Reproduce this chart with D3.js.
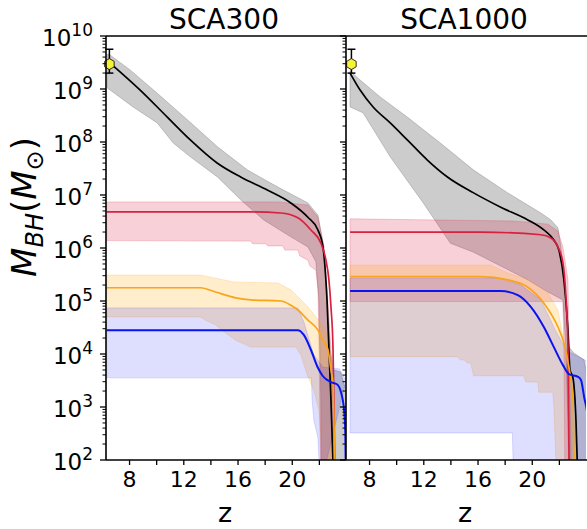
<!DOCTYPE html>
<html lang="en">
  <head>
    <meta charset="utf-8">
    <script src="https://d3js.org/d3.v7.min.js"></script>
    <style>
      body { margin: 0; background: #fff; }
      text { font-family: "DejaVu Sans", sans-serif; fill: #000; }
    </style>
  </head>
  <body>
    <svg id="chart"></svg>
    <script>
      // values are log10(M_BH / Msun), as [z, logM] pairs
      var titles = ["SCA300", "SCA1000"];
      var xTicks = [8, 10, 12, 14, 16, 18, 20, 22];
      var xLabels = [8, 12, 16, 20];
      var yDecades = [2, 3, 4, 5, 6, 7, 8, 9, 10];

      // observed quasar point: z, logM, err low, err high
      var obs300 = [6.55, 9.47, 9.30, 9.75];
      var obs1000 = [6.7, 9.47, 9.30, 9.75];

      // ---- SCA300 ----
      var s300_black = [[6.6,9.49],[8.82,8.98],[10.82,8.47],[12.52,8.04],[14.52,7.60],[16.23,7.34],[18.23,7.09],[19.93,6.85],[21.19,6.58],[21.93,6.34],[22.3,6.02],[22.6,5.02],[22.89,3.13],[23.1,1.5]];
      var s300_blackHi = [[6.4,9.66],[6.6,9.64],[8.08,9.36],[10.08,8.92],[12.3,8.42],[14.52,7.91],[16.74,7.47],[18.97,7.15],[21.19,6.85],[21.93,6.62],[22.37,6.02],[22.6,5.02],[22.82,4.08],[23.1,3.7],[23.6,3.66],[24.0,3.3]];
      var s300_blackLo = [[6.4,9.02],[8.3,8.66],[10.08,8.36],[11.26,7.98],[12.52,7.72],[14.52,7.34],[16.23,6.91],[17.93,6.53],[19.93,6.21],[21.19,6.02],[21.78,5.74],[22.0,5.02],[22.15,3.13],[22.2,1.5],[24.0,1.5]];

      var s300_red = [[6.35,6.68],[16.97,6.68],[19.19,6.66],[20.45,6.57],[21.41,6.34],[22.15,6.09],[22.52,5.77],[22.74,5.40],[22.89,4.89],[23.04,4.13],[23.11,3.13],[23.19,1.5]];
      var s300_redHi = [[6.35,6.87],[18.97,6.87],[21.19,6.81],[21.93,6.58],[22.37,6.02],[22.67,5.02],[22.89,4.08],[23.1,2.75],[23.26,1.5]];
      var s300_redLo = [[6.35,6.14],[16.97,6.13],[17.11,6.08],[18.08,6.08],[18.23,6.04],[19.34,6.04],[19.49,5.96],[20.45,5.96],[20.6,5.85],[21.19,5.77],[21.34,5.66],[21.78,5.58],[21.93,5.21],[22.0,4.26],[22.08,2.75],[22.15,1.5]];

      var s300_orange = [[6.35,5.25],[13.26,5.25],[14.37,5.17],[15.86,5.06],[16.97,5.02],[19.19,5.0],[19.93,4.92],[20.45,4.83],[21.19,4.64],[21.93,4.45],[22.3,4.26],[22.67,4.08],[22.89,3.70],[23.04,3.45],[23.11,2.75],[23.19,1.5]];
      var s300_orangeHi = [[6.35,5.49],[13.26,5.49],[15.71,5.36],[18.97,5.34],[19.93,5.21],[21.19,4.89],[22.37,4.51],[22.74,4.26],[23.04,3.51],[23.19,1.5]];
      var s300_orangeLo = [[6.35,4.70],[13.26,4.70],[13.63,4.64],[14.37,4.55],[15.11,4.40],[15.86,4.26],[16.97,4.13],[20.3,4.13],[20.67,3.98],[21.19,3.57],[21.63,3.32],[22.0,2.94],[22.15,2.38],[22.2,1.5]];

      var s300_blue = [[6.35,4.45],[20.45,4.45],[20.89,4.36],[21.41,4.08],[21.93,3.74],[22.3,3.58],[22.89,3.47],[23.33,3.43],[23.63,3.28],[23.86,2.94],[23.95,2.5],[24.0,1.5]];
      var s300_blueHi = [[6.35,4.87],[20.45,4.87],[20.9,4.6],[21.6,4.0],[22.3,3.75],[23.5,3.72],[24.0,3.5]];
      var s300_blueLo = [[6.35,3.55],[21.45,3.55],[21.5,3.13],[21.63,2.75],[21.93,2.42],[22.1,1.5]];

      // ---- SCA1000 ----
      var s1000_black = [[6.6,9.30],[7.34,8.98],[8.3,8.66],[9.56,8.36],[10.82,8.04],[12.3,7.66],[13.78,7.34],[15.71,7.04],[17.71,6.77],[19.71,6.53],[20.89,6.34],[21.63,6.15],[22.0,5.96],[22.37,5.40],[22.67,4.45],[22.82,3.70],[23.04,3.55],[23.26,2.75],[23.41,1.5]];
      var s1000_blackHi = [[6.6,9.34],[7.34,9.17],[8.82,8.85],[10.82,8.47],[13.26,7.98],[15.71,7.47],[18.23,7.04],[20.67,6.66],[21.41,6.53],[21.93,6.38],[22.15,6.02],[22.52,5.02],[22.74,4.13],[23.1,4.02],[23.85,3.89],[24.15,3.5]];
      var s1000_blackLo = [[6.6,8.66],[7.56,8.55],[9.56,7.72],[12.0,6.85],[14.0,6.09],[15.71,5.92],[17.71,5.66],[19.71,5.40],[21.19,5.17],[22.3,5.02],[22.52,4.08],[22.67,2.75],[22.74,1.5],[24.2,1.5]];

      var s1000_red = [[6.6,6.30],[16.23,6.30],[20.67,6.25],[21.41,6.19],[21.93,6.02],[22.3,5.72],[22.52,5.08],[22.67,4.13],[22.74,2.25],[22.78,1.5]];
      var s1000_redHi = [[6.6,6.55],[18.67,6.51],[21.19,6.45],[21.93,6.32],[22.3,6.02],[22.67,5.40],[22.74,4.13],[22.89,2.25],[22.9,1.5]];
      var s1000_redLo = [[6.6,4.99],[22.3,4.99],[22.37,4.08],[22.45,1.5]];

      var s1000_orange = [[6.6,5.46],[16.23,5.46],[18.23,5.40],[19.71,5.26],[20.89,4.96],[21.93,4.51],[22.37,4.21],[22.74,3.75],[23.04,3.13],[23.11,2.19],[23.15,1.5]];
      var s1000_orangeHi = [[6.6,5.68],[16.97,5.68],[18.23,5.53],[19.71,5.40],[21.19,5.15],[21.93,4.83],[22.3,4.32],[22.67,3.89],[22.89,3.45],[23.04,2.19],[23.1,1.5]];
      var s1000_orangeLo = [[6.6,3.95],[14.5,3.95],[14.75,3.89],[15.0,3.89],[15.25,3.83],[15.5,3.83],[15.71,3.59],[19.41,3.59],[19.56,3.47],[20.45,3.47],[20.52,3.28],[21.56,3.28],[21.63,3.0],[21.86,1.5]];

      var s1000_blue = [[6.6,5.19],[17.71,5.19],[18.97,5.11],[19.93,4.89],[20.89,4.51],[21.63,4.13],[22.3,3.79],[22.74,3.62],[23.41,3.57],[23.63,3.51],[23.86,3.19],[24.15,2.75],[24.3,1.5]];
      var s1000_blueHi = [[6.6,5.43],[17.71,5.43],[19.2,5.3],[20.67,5.02],[21.75,4.45],[22.52,4.08],[22.9,4.02],[24.2,3.85]];
      var s1000_blueLo = [[6.6,2.51],[18.57,2.51],[18.67,1.5],[24.2,1.5]];

      var width = 587, height = 529;
      var yTop = 36, yBottom = 460, panelW = 240;
      var lefts = [106, 346];

      var svg = d3.select("#chart")
        .attr("width", width)
        .attr("height", height);

      var y = d3.scaleLog().domain([1e2, 1e10]).range([yBottom, yTop]);

      var colors = {
        black: { line: "#000000", fill: "#808080", op: 0.4, w: 1.7 },
        red: { line: "#d7213f", fill: "#dc143c", op: 0.2, w: 1.7 },
        orange: { line: "#f8a51c", fill: "#ffa500", op: 0.2, w: 1.7 },
        blue: { line: "#0a14f0", fill: "#0000ff", op: 0.13, w: 2 }
      };

      var panels = [
        { title: titles[0], obs: obs300, series: [
          ["black", s300_black, s300_blackHi, s300_blackLo],
          ["red", s300_red, s300_redHi, s300_redLo],
          ["orange", s300_orange, s300_orangeHi, s300_orangeLo],
          ["blue", s300_blue, s300_blueHi, s300_blueLo]] },
        { title: titles[1], obs: obs1000, series: [
          ["black", s1000_black, s1000_blackHi, s1000_blackLo],
          ["red", s1000_red, s1000_redHi, s1000_redLo],
          ["orange", s1000_orange, s1000_orangeHi, s1000_orangeLo],
          ["blue", s1000_blue, s1000_blueHi, s1000_blueLo]] }
      ];

      panels.forEach(function(p, k)
      {
        var x0 = lefts[k];
        var x = d3.scaleLinear().domain([6.3, 24]).range([x0, x0 + panelW]);
        var g = svg.append("g");

        g.append("clipPath").attr("id", "clip" + k)
          .append("rect").attr("x", x0).attr("y", yTop)
          .attr("width", panelW).attr("height", yBottom - yTop);

        var plot = g.append("g").attr("clip-path", "url(#clip" + k + ")");

        var poly = d3.line()
          .x(function(d) { return x(d[0]); })
          .y(function(d) { return y(Math.pow(10, d[1])); });
        var curve = d3.line()
          .x(function(d) { return x(d[0]); })
          .y(function(d) { return y(Math.pow(10, d[1])); })
          .curve(d3.curveMonotoneX);

        // bands
        p.series.forEach(function(s)
        {
          var c = colors[s[0]];
          var pts = s[2].concat(s[3].slice().reverse());
          plot.append("path")
            .attr("d", poly(pts) + "Z")
            .attr("fill", c.fill)
            .attr("fill-opacity", c.op)
            .attr("stroke", c.fill)
            .attr("stroke-opacity", c.op)
            .attr("stroke-width", 1);
        });

        // median lines
        p.series.forEach(function(s)
        {
          var c = colors[s[0]];
          plot.append("path")
            .attr("d", curve(s[1]))
            .attr("fill", "none")
            .attr("stroke", c.line)
            .attr("stroke-width", c.w);
        });

        // observed point with error bar
        var ox = x(p.obs[0]);
        var yLo = y(Math.pow(10, p.obs[2])), yHi = y(Math.pow(10, p.obs[3]));
        g.append("line").attr("x1", ox).attr("x2", ox).attr("y1", yLo).attr("y2", yHi)
          .attr("stroke", "#000").attr("stroke-width", 1.5);
        [yLo, yHi].forEach(function(v)
        {
          g.append("line").attr("x1", ox - 4).attr("x2", ox + 4).attr("y1", v).attr("y2", v)
            .attr("stroke", "#000").attr("stroke-width", 1.5);
        });
        var oy = y(Math.pow(10, p.obs[1]));
        var hex = d3.range(6).map(function(i)
        {
          var a = Math.PI / 2 + i * Math.PI / 3;
          return [ox + 5.5 * Math.cos(a), oy + 5.5 * Math.sin(a)];
        });
        g.append("path").attr("d", d3.line()(hex) + "Z")
          .attr("fill", "#f7f233").attr("stroke", "#000").attr("stroke-width", 0.8);

        // x axis
        var xAxis = d3.axisBottom(x).tickValues(xTicks)
          .tickFormat(function(d) { return xLabels.indexOf(d) >= 0 ? d : ""; })
          .tickSize(5).tickPadding(6);
        var ax = g.append("g").attr("transform", "translate(0," + yBottom + ")").call(xAxis);
        ax.select(".domain").remove();
        ax.selectAll("line").attr("stroke-width", 1.3);
        ax.selectAll("text").style("font-size", "22px")
          .style("font-family", "DejaVu Sans");

        // y ticks on the left edge of each panel
        var minor = [];
        yDecades.forEach(function(e)
        {
          if (e < 10) d3.range(2, 10).forEach(function(m) { minor.push(m * Math.pow(10, e)); });
        });
        minor.forEach(function(v)
        {
          g.append("line").attr("x1", x0 - 3.5).attr("x2", x0)
            .attr("y1", y(v)).attr("y2", y(v))
            .attr("stroke", "#000").attr("stroke-width", 1);
        });
        yDecades.forEach(function(e)
        {
          g.append("line").attr("x1", x0 - 6).attr("x2", x0)
            .attr("y1", y(Math.pow(10, e))).attr("y2", y(Math.pow(10, e)))
            .attr("stroke", "#000").attr("stroke-width", 1.3);
        });

        g.append("text").attr("x", x0 + panelW / 2 - 2).attr("y", 29)
          .attr("text-anchor", "middle").style("font-size", "28px").text(p.title);

        g.append("text").attr("x", x0 + panelW / 2 - 1).attr("y", 522)
          .attr("text-anchor", "middle").style("font-size", "27px").text("z");
      });

      // y tick labels (first panel only)
      yDecades.forEach(function(e)
      {
        var t = svg.append("text")
          .attr("x", 93).attr("y", y(Math.pow(10, e)) + 10)
          .attr("text-anchor", "end").style("font-size", "23px");
        t.append("tspan").text("10");
        t.append("tspan").attr("dy", -10).style("font-size", "17px").text(e);
      });

      // frame
      svg.append("line").attr("x1", lefts[0]).attr("x2", width)
        .attr("y1", yTop).attr("y2", yTop).attr("stroke", "#000").attr("stroke-width", 1.6);
      svg.append("line").attr("x1", lefts[0]).attr("x2", width)
        .attr("y1", yBottom).attr("y2", yBottom).attr("stroke", "#000").attr("stroke-width", 1.6);
      lefts.forEach(function(l)
      {
        svg.append("line").attr("x1", l).attr("x2", l)
          .attr("y1", yTop).attr("y2", yBottom).attr("stroke", "#000").attr("stroke-width", 1.6);
      });

      // y label
      var yl = svg.append("text")
        .attr("transform", "translate(36,207) rotate(-90)")
        .attr("text-anchor", "middle").style("font-size", "34px");
      yl.append("tspan").style("font-style", "italic").text("M");
      yl.append("tspan").attr("dy", 7).style("font-style", "italic").style("font-size", "24px").text("BH");
      yl.append("tspan").attr("dy", -7).text("(");
      yl.append("tspan").style("font-style", "italic").text("M");
      yl.append("tspan").attr("dy", 7).style("font-size", "24px").text("\u2299");
      yl.append("tspan").attr("dy", -7).text(")");
    </script>
  </body>
</html>
